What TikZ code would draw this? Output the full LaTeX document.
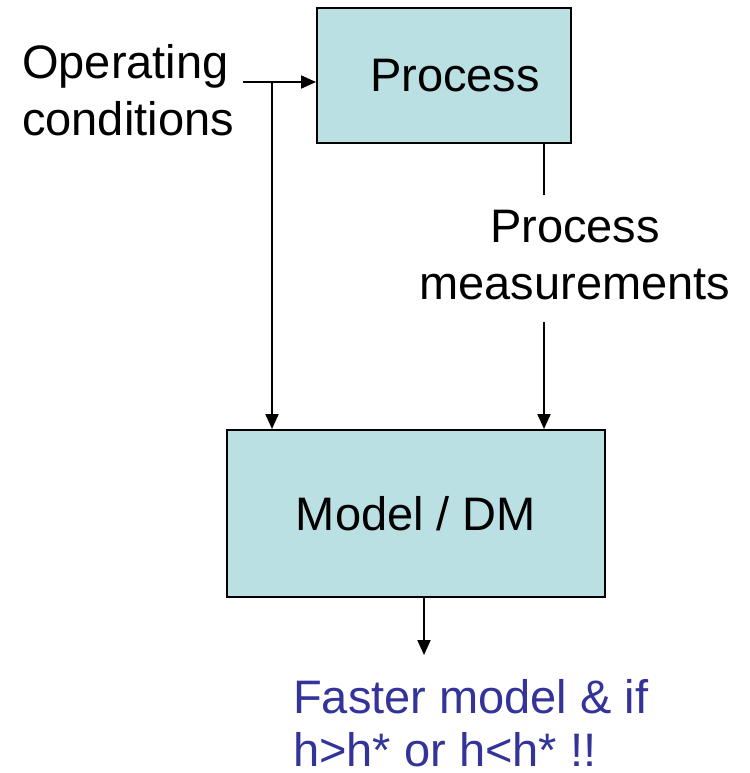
\documentclass[tikz,border=0pt]{standalone}
\usepackage{fontspec}
\setmainfont{Liberation Sans}
\usetikzlibrary{arrows.meta}
\definecolor{boxfill}{HTML}{BBE0E3}
\definecolor{bluetext}{HTML}{333399}
\begin{document}
\begin{tikzpicture}[x=1pt,y=-1pt,
  blockbox/.style={draw=black,line width=2pt,fill=boxfill,inner sep=0pt,
    font=\fontsize{47}{57}\selectfont},
  lbl/.style={inner sep=0pt,font=\fontsize{47}{57}\selectfont},
  conn/.style={line width=2pt,-{Triangle[length=15pt,width=13pt]}},
  plain/.style={line width=2pt}]
\useasboundingbox (0,0) rectangle (749,773);
\node[blockbox,minimum width=254pt,minimum height=135pt] (proc) at (444,75.5) {\hspace*{22pt}Process};
\node[blockbox,minimum width=378pt,minimum height=167pt] (model) at (416,513.5) {Model / DM};
\node[lbl,anchor=north west,align=left] (opc) at (22,44) {Operating\\conditions};
\node[lbl,anchor=north,align=center] (pm) at (575,210) {Process\\measurements};
\node[lbl,anchor=north west,align=left,text=bluetext,
  font=\fontsize{47}{53}\selectfont] (out) at (293,679) {Faster model \& if\\h>h* or h<h* !!};
\coordinate (opcend) at (243,82);
\coordinate (split) at (272,82);
\coordinate (pmtop) at (544,195);
\coordinate (pmbot) at (544,322);
\coordinate (outtip) at (424,655);
\draw[conn] (opcend) -- (proc.west |- opcend);
\draw[conn] (split) -- (split |- model.north);
\draw[plain] (proc.south -| pmtop) -- (pmtop);
\draw[conn] (pmbot) -- (pmbot |- model.north);
\draw[conn] (model.south -| outtip) -- (outtip);
\end{tikzpicture}
\end{document}
